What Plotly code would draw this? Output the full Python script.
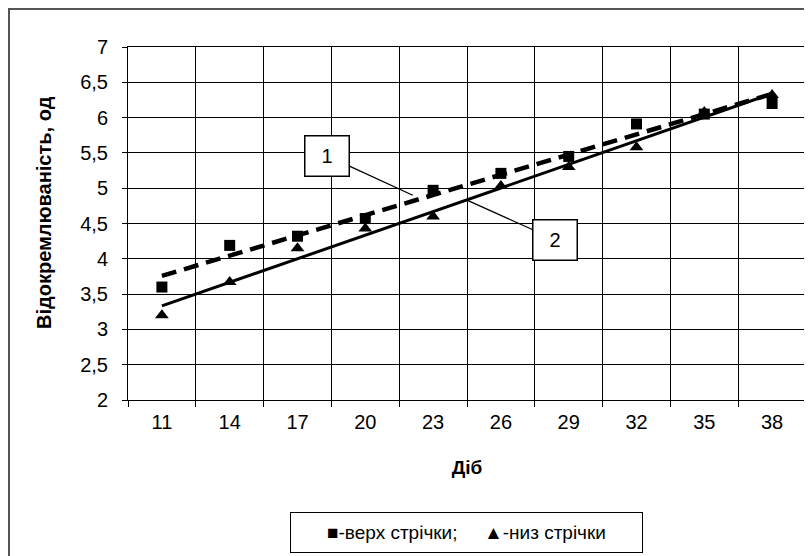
import numpy as np
import plotly.graph_objects as go

# ---- data ----
days = ["11", "14", "17", "20", "23", "26", "29", "32", "35", "38"]
top_tape = [3.6, 4.19, 4.32, 4.57, 4.97, 5.21, 5.45, 5.91, 6.05, 6.2]      # верх стрічки
bottom_tape = [3.2, 3.67, 4.15, 4.43, 4.6, 5.03, 5.3, 5.58, 6.08, 6.32]    # низ стрічки
y_ticks = [2, 2.5, 3, 3.5, 4, 4.5, 5, 5.5, 6, 6.5, 7]
y_ticktext = ["2", "2,5", "3", "3,5", "4", "4,5", "5", "5,5", "6", "6,5", "7"]

W, H = 812, 556
OFF = 8  # page body margin
ML, MR, MT, MB = 128 - OFF, 812 - (806 - OFF), 47 - OFF, 556 - (400 - OFF)
FONT = "Liberation Sans, Arial, sans-serif"

idx = np.arange(len(days))
p_top = np.polyfit(idx, top_tape, 1)
p_bot = np.polyfit(idx, bottom_tape, 1)
xs = np.array([0, len(days) - 1])

fig = go.Figure()
fig.add_trace(go.Scatter(x=idx, y=top_tape, mode="markers", name="верх стрічки",
                         marker=dict(symbol="square", size=11, color="black")))
fig.add_trace(go.Scatter(x=idx, y=bottom_tape, mode="markers", name="низ стрічки",
                         marker=dict(symbol="triangle-up", size=12, color="black")))
fig.add_trace(go.Scatter(x=xs, y=np.polyval(p_top, xs), mode="lines", showlegend=False,
                         line=dict(color="black", width=4.5, dash="15px,8px")))
fig.add_trace(go.Scatter(x=xs, y=np.polyval(p_bot, xs), mode="lines", showlegend=False,
                         line=dict(color="black", width=3)))

pw = W - ML - MR
ph = H - MT - MB

def px2paper(x, y):
    # page pixel coords -> paper coords
    return (x - OFF - ML) / pw, (H - MB - (y - OFF)) / ph

fx0, fy1 = px2paper(OFF + 1, OFF + 1)
fx1, fy0 = px2paper(840, 580)
fig.add_shape(type="rect", xref="paper", yref="paper", x0=fx0, x1=fx1, y0=fy0, y1=fy1,
              line=dict(color="#555555", width=2), fillcolor="rgba(0,0,0,0)")

# callout labels
for txt, tip, box in [("1", (3.70, 4.90), (2.43, 5.46)), ("2", (4.50, 4.83), (5.80, 4.27))]:
    fig.add_annotation(x=tip[0], y=tip[1], xref="x", yref="y", axref="x", ayref="y",
                       ax=box[0], ay=box[1], text=txt, showarrow=True, arrowhead=0,
                       arrowwidth=1.3, arrowcolor="black", bordercolor="black",
                       borderwidth=1.5, borderpad=0, bgcolor="white", width=43, height=39,
                       font=dict(family=FONT, size=20, color="black"))

# legend box
lx, ly = px2paper(466.5, 532)
fig.add_annotation(x=lx, y=ly, xref="paper", yref="paper", showarrow=False,
                   text="■-верх стрічки;\u00a0\u00a0\u00a0\u00a0\u00a0▲-низ стрічки",
                   bordercolor="black", borderwidth=1, borderpad=0, bgcolor="white",
                   width=351, height=39, xanchor="center", yanchor="middle",
                   font=dict(family=FONT, size=19, color="black"))

# y-axis title (placed to match the reference's slightly raised position)
tx, ty = px2paper(44, 213)
fig.add_annotation(x=tx, y=ty, xref="paper", yref="paper", showarrow=False,
                   text="<b>Відокремлюваність, од</b>", textangle=-90,
                   xanchor="center", yanchor="middle",
                   font=dict(family=FONT, size=20, color="black"))

fig.update_layout(
    width=W, height=H, margin=dict(l=ML, r=MR, t=MT, b=MB),
    paper_bgcolor="white", plot_bgcolor="white", showlegend=False,
    font=dict(family=FONT, size=20, color="black"),
)
fig.update_xaxes(
    range=[-0.5, len(days) - 0.5], tickmode="array", tickvals=list(idx), ticktext=days,
    showgrid=False, ticks="", showline=True, mirror=True, linecolor="black", linewidth=1,
    zeroline=False, tickfont=dict(size=20), ticklabelstandoff=4,
    minor=dict(tickmode="array", tickvals=[i - 0.5 for i in range(len(days) + 1)],
               showgrid=True, gridcolor="black", gridwidth=1, ticks="outside",
               ticklen=6, tickcolor="black"),
    title=dict(text="<b>Діб</b>", font=dict(size=19), standoff=28),
)
fig.update_yaxes(
    range=[2, 7], tickmode="array", tickvals=y_ticks, ticktext=y_ticktext,
    showgrid=True, gridcolor="black", gridwidth=1, ticks="outside", ticklen=5,
    tickcolor="black", showline=True, mirror=True, linecolor="black", linewidth=1,
    zeroline=False, ticklabelstandoff=10, tickfont=dict(size=20),
)

fig.write_html("out.html")
